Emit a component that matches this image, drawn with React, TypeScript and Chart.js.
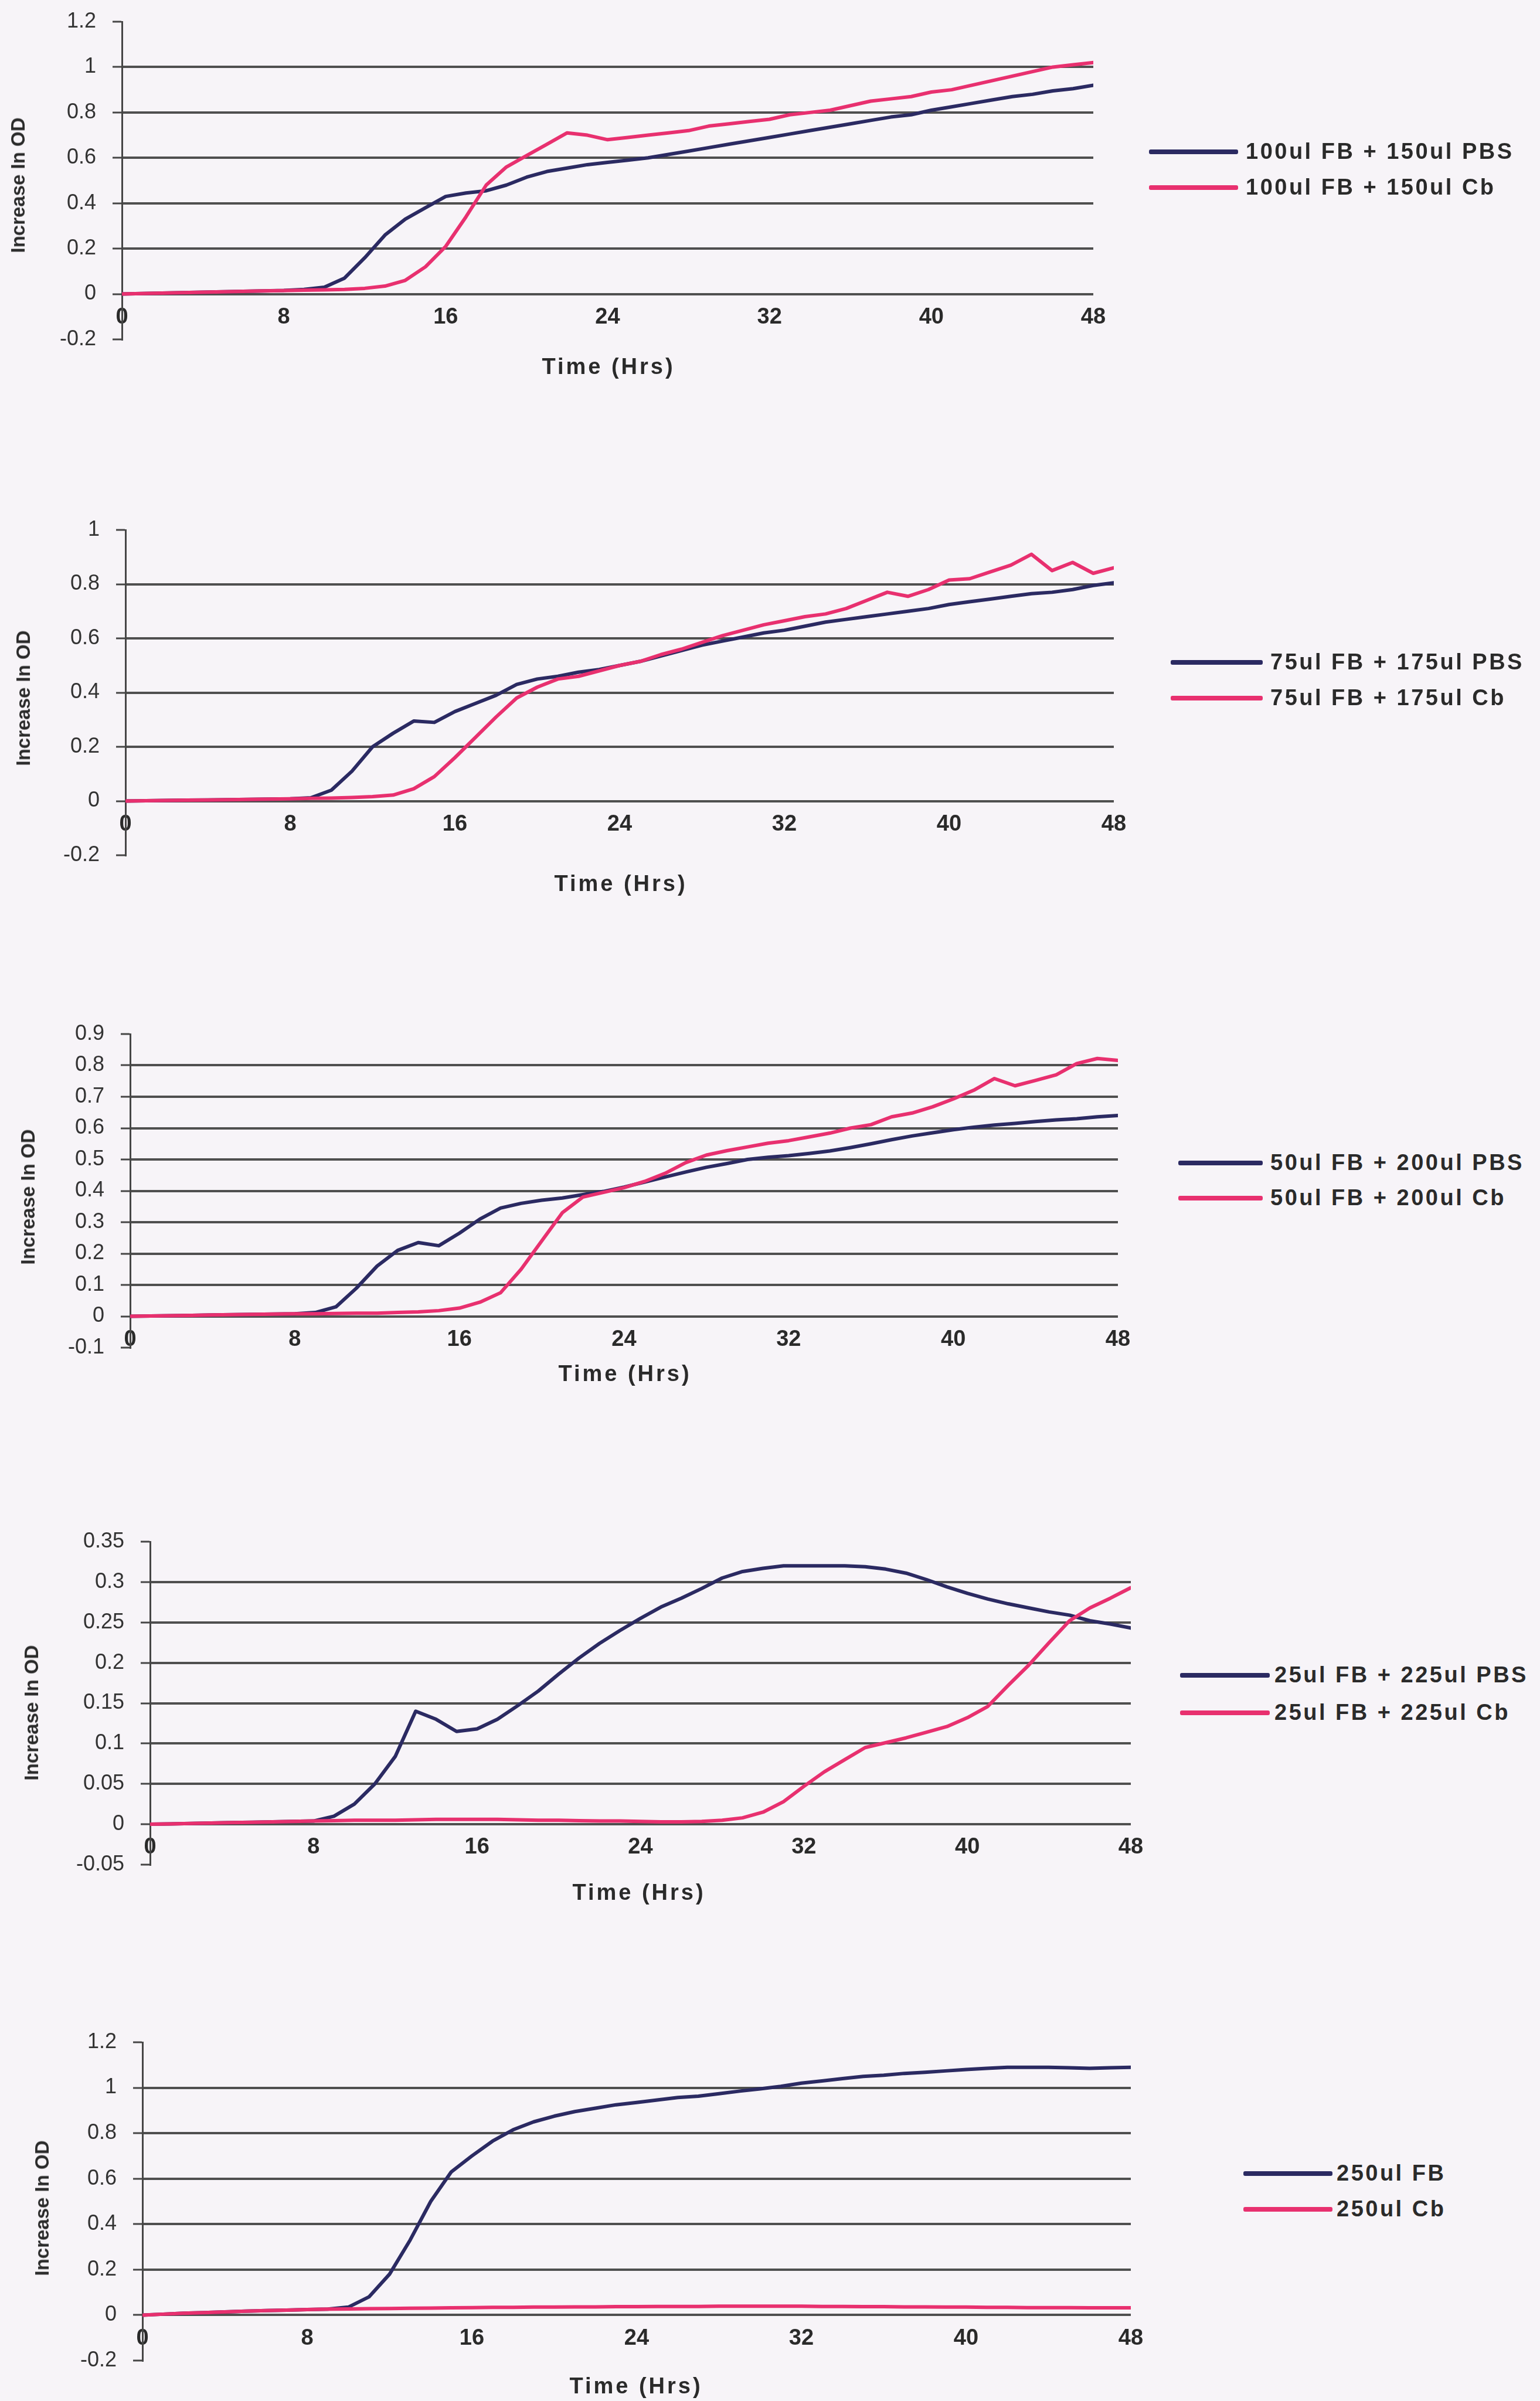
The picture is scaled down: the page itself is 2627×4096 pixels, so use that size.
import React, { useEffect, useRef } from 'react';
import { Chart, registerables } from 'chart.js';

Chart.register(...registerables);

// ---------- data ----------
const HOURS = [0, 1, 2, 3, 4, 5, 6, 7, 8, 9, 10, 11, 12, 13, 14, 15, 16, 17, 18, 19, 20, 21, 22, 23, 24,
  25, 26, 27, 28, 29, 30, 31, 32, 33, 34, 35, 36, 37, 38, 39, 40, 41, 42, 43, 44, 45, 46, 47, 48];

const X_TICK_STEP = 8;

// Panel 1: 100ul FB
const c1Pbs = [0, 0.002, 0.004, 0.006, 0.008, 0.01, 0.012, 0.014, 0.016, 0.02, 0.03, 0.07, 0.16, 0.26, 0.33, 0.38, 0.43, 0.445, 0.455, 0.48, 0.515,
  0.54, 0.555, 0.57, 0.58, 0.59, 0.6, 0.615, 0.63, 0.645, 0.66, 0.675, 0.69, 0.705, 0.72, 0.735, 0.75, 0.765, 0.78, 0.79, 0.81,
  0.825, 0.84, 0.855, 0.87, 0.88, 0.895, 0.905, 0.92];
const c1Cb = [0, 0.002, 0.004, 0.006, 0.008, 0.01, 0.012, 0.014, 0.015, 0.017, 0.018, 0.02, 0.025, 0.035, 0.06, 0.12, 0.21, 0.34, 0.48, 0.56, 0.61,
  0.66, 0.71, 0.7, 0.68, 0.69, 0.7, 0.71, 0.72, 0.74, 0.75, 0.76, 0.77, 0.79, 0.8, 0.81, 0.83, 0.85, 0.86, 0.87, 0.89,
  0.9, 0.92, 0.94, 0.96, 0.98, 1.0, 1.01, 1.02];

// Panel 2: 75ul FB
const c2Pbs = [0, 0.001, 0.002, 0.003, 0.004, 0.005, 0.006, 0.007, 0.008, 0.012, 0.04, 0.11, 0.2, 0.25, 0.295, 0.29, 0.33, 0.36, 0.39, 0.43, 0.45,
  0.46, 0.475, 0.485, 0.5, 0.515, 0.535, 0.555, 0.575, 0.59, 0.605, 0.62, 0.63, 0.645, 0.66, 0.67, 0.68, 0.69, 0.7, 0.71, 0.725,
  0.735, 0.745, 0.755, 0.765, 0.77, 0.78, 0.795, 0.805];
const c2Cb = [0, 0.001, 0.002, 0.003, 0.004, 0.005, 0.006, 0.007, 0.008, 0.01, 0.011, 0.013, 0.016, 0.022, 0.045, 0.09, 0.16, 0.235, 0.31, 0.38, 0.42,
  0.45, 0.46, 0.48, 0.5, 0.515, 0.54, 0.56, 0.585, 0.61, 0.63, 0.65, 0.665, 0.68, 0.69, 0.71, 0.74, 0.77, 0.755, 0.78, 0.815,
  0.82, 0.845, 0.87, 0.91, 0.85, 0.88, 0.84, 0.86];

// Panel 3: 50ul FB
const c3Pbs = [0, 0.001, 0.002, 0.003, 0.004, 0.005, 0.006, 0.007, 0.008, 0.012, 0.03, 0.09, 0.16, 0.21, 0.235, 0.225, 0.265, 0.31, 0.345, 0.36, 0.37,
  0.377, 0.388, 0.398, 0.412, 0.428, 0.444, 0.46, 0.475, 0.487, 0.5, 0.507, 0.512, 0.519, 0.527, 0.538, 0.55, 0.563, 0.575, 0.585, 0.595,
  0.603, 0.61, 0.615, 0.621, 0.626, 0.63, 0.636, 0.64];
const c3Cb = [0, 0.001, 0.002, 0.003, 0.004, 0.005, 0.006, 0.007, 0.008, 0.008, 0.009, 0.01, 0.01, 0.012, 0.014, 0.018, 0.026, 0.045, 0.075, 0.15, 0.24,
  0.33, 0.38, 0.395, 0.41, 0.43, 0.456, 0.49, 0.514, 0.528, 0.54, 0.552, 0.56, 0.572, 0.584, 0.6, 0.611, 0.636, 0.648, 0.668, 0.693,
  0.721, 0.758, 0.735, 0.752, 0.77, 0.806, 0.822, 0.816];

// Panel 4: 25ul FB
const c4Pbs = [0, 0.0005, 0.001, 0.0015, 0.002, 0.0025, 0.003, 0.0035, 0.004, 0.01, 0.025, 0.05, 0.084, 0.14, 0.13, 0.115, 0.118, 0.13, 0.147, 0.165, 0.186,
  0.206, 0.224, 0.24, 0.255, 0.269, 0.28, 0.292, 0.305, 0.313, 0.317, 0.32, 0.32, 0.32, 0.32, 0.319, 0.316, 0.311, 0.303, 0.294, 0.286,
  0.279, 0.273, 0.268, 0.263, 0.259, 0.252, 0.248, 0.243];
const c4Cb = [0, 0.0005, 0.001, 0.0015, 0.002, 0.0025, 0.003, 0.0035, 0.004, 0.0045, 0.005, 0.005, 0.005, 0.0055, 0.006, 0.006, 0.006, 0.006, 0.0055, 0.005, 0.005,
  0.0045, 0.004, 0.004, 0.0035, 0.003, 0.003, 0.0035, 0.005, 0.008, 0.015, 0.028, 0.047, 0.065, 0.08, 0.095, 0.101, 0.107, 0.114, 0.121, 0.132,
  0.146, 0.172, 0.197, 0.225, 0.252, 0.268, 0.28, 0.293];

// Panel 5: 250ul FB
const c5Pbs = [0, 0.004, 0.008, 0.011, 0.014, 0.017, 0.02, 0.022, 0.024, 0.026, 0.035, 0.08, 0.18, 0.33, 0.5, 0.63, 0.7, 0.765, 0.815, 0.85, 0.875,
  0.895, 0.91, 0.925, 0.935, 0.946, 0.957, 0.963, 0.974, 0.985, 0.995, 1.006, 1.02, 1.03, 1.04, 1.05, 1.055, 1.063, 1.068, 1.074, 1.08,
  1.085, 1.09, 1.09, 1.09, 1.088, 1.085, 1.088, 1.09];
const c5Cb = [0, 0.004, 0.008, 0.011, 0.014, 0.017, 0.02, 0.022, 0.024, 0.026, 0.027, 0.028, 0.029, 0.03, 0.031, 0.032, 0.033, 0.034, 0.034, 0.035, 0.035,
  0.036, 0.036, 0.037, 0.037, 0.038, 0.038, 0.038, 0.039, 0.039, 0.039, 0.039, 0.039, 0.038, 0.038, 0.037, 0.037, 0.036, 0.036, 0.035, 0.035,
  0.034, 0.034, 0.033, 0.033, 0.033, 0.032, 0.032, 0.032];

const LEGEND_1 = ['100ul FB + 150ul PBS', '100ul FB + 150ul Cb'];
const LEGEND_2 = ['75ul FB + 175ul PBS', '75ul FB + 175ul Cb'];
const LEGEND_3 = ['50ul FB + 200ul PBS', '50ul FB + 200ul Cb'];
const LEGEND_4 = ['25ul FB + 225ul PBS', '25ul FB + 225ul Cb'];
const LEGEND_5 = ['250ul FB', '250ul Cb'];

const Y_TITLE = 'Increase In OD';
const X_TITLE = 'Time (Hrs)';

// ---------- styles ----------
const NAVY = '#2b2a62';
const PINK = '#e8306f';
const GRID = '#4f4f4f';
const AXIS = '#464646';
const TEXT = '#2a2a2a';
const BG = '#f7f4f8';
const FONT = '"Liberation Sans", Arial, Helvetica, sans-serif';
const CANVAS_W = 2000;
const AXIS_W = 140;

type PanelCfg = {
  pbs: number[]; cb: number[]; labels: string[];
  yMin: number; yMax: number; yStep: number;
  plot: { left: number; right: number; top: number; bottom: number };
  yTitle: { x: number; y: number };
  xTitle: { x: number; y: number };
  legend: { rows: number[]; lineX: number[]; textX: number };
};

const PANELS: PanelCfg[] = [
  { pbs: c1Pbs, cb: c1Cb, labels: LEGEND_1, yMin: -0.2, yMax: 1.2, yStep: 0.2,
    plot: { left: 208, right: 1865, top: 37, bottom: 579 },
    yTitle: { x: 31, y: 316 }, xTitle: { x: 1038, y: 626 },
    legend: { rows: [259, 320], lineX: [1960, 2112], textX: 2125 } },
  { pbs: c2Pbs, cb: c2Cb, labels: LEGEND_2, yMin: -0.2, yMax: 1.0, yStep: 0.2,
    plot: { left: 214, right: 1900, top: 904, bottom: 1459 },
    yTitle: { x: 40, y: 1191 }, xTitle: { x: 1059, y: 1508 },
    legend: { rows: [1130, 1191], lineX: [1997, 2154], textX: 2167 } },
  { pbs: c3Pbs, cb: c3Cb, labels: LEGEND_3, yMin: -0.1, yMax: 0.9, yStep: 0.1,
    plot: { left: 222, right: 1907, top: 1764, bottom: 2299 },
    yTitle: { x: 48, y: 2042 }, xTitle: { x: 1066, y: 2344 },
    legend: { rows: [1984, 2044], lineX: [2010, 2154], textX: 2167 } },
  { pbs: c4Pbs, cb: c4Cb, labels: LEGEND_4, yMin: -0.05, yMax: 0.35, yStep: 0.05,
    plot: { left: 256, right: 1929, top: 2630, bottom: 3181 },
    yTitle: { x: 54, y: 2922 }, xTitle: { x: 1090, y: 3229 },
    legend: { rows: [2858, 2922], lineX: [2013, 2166], textX: 2174 } },
  { pbs: c5Pbs, cb: c5Cb, labels: LEGEND_5, yMin: -0.2, yMax: 1.2, yStep: 0.2,
    plot: { left: 243, right: 1929, top: 3484, bottom: 4027 },
    yTitle: { x: 72, y: 3767 }, xTitle: { x: 1085, y: 4071 },
    legend: { rows: [3708, 3769], lineX: [2121, 2273], textX: 2280 } },
];

function Panel({ cfg }: { cfg: PanelCfg }) {
  const ref = useRef<HTMLCanvasElement>(null);
  const canvasTop = cfg.plot.top - 50;
  const canvasH = cfg.plot.bottom - cfg.plot.top + 100;

  useEffect(() => {
    const canvas = ref.current;
    if (!canvas) return;
    const isEdge = (v: number) =>
      Math.abs(v - cfg.yMin) < 1e-6 || Math.abs(v - cfg.yMax) < 1e-6;
    const chart = new Chart(canvas, {
      type: 'line',
      data: {
        datasets: [
          {
            label: cfg.labels[1],
            data: HOURS.map((h, i) => ({ x: h, y: cfg.cb[i] })),
            borderColor: PINK,
            backgroundColor: PINK,
            borderWidth: 6,
            pointRadius: 0,
            tension: 0,
            borderJoinStyle: 'round',
            borderCapStyle: 'round',
            order: 0,
          },
          {
            label: cfg.labels[0],
            data: HOURS.map((h, i) => ({ x: h, y: cfg.pbs[i] })),
            borderColor: NAVY,
            backgroundColor: NAVY,
            borderWidth: 6,
            pointRadius: 0,
            tension: 0,
            borderJoinStyle: 'round',
            borderCapStyle: 'round',
            order: 1,
          },
        ],
      },
      options: {
        responsive: false,
        animation: false,
        events: [],
        layout: {
          padding: {
            left: cfg.plot.left - AXIS_W,
            top: cfg.plot.top - canvasTop,
            right: CANVAS_W - cfg.plot.right,
            bottom: canvasTop + canvasH - cfg.plot.bottom,
          },
        },
        plugins: { legend: { display: false }, tooltip: { enabled: false } },
        scales: {
          x: {
            type: 'linear',
            min: 0,
            max: 48,
            position: { y: 0 } as any,
            grid: { display: false, drawTicks: false },
            border: { display: false },
            ticks: {
              stepSize: X_TICK_STEP,
              autoSkip: false,
              maxRotation: 0,
              padding: 17,
              color: TEXT,
              font: { family: FONT, size: 38, weight: 'bold' },
            },
          },
          y: {
            type: 'linear',
            min: cfg.yMin,
            max: cfg.yMax,
            afterFit: (s: any) => { s.width = AXIS_W; },
            grid: {
              color: (ctx: any) => (ctx.tick && isEdge(ctx.tick.value) ? 'rgba(0,0,0,0)' : GRID),
              lineWidth: 4,
              tickLength: 16,
              tickColor: AXIS,
              tickWidth: 3,
            },
            border: { display: true, color: AXIS, width: 3 },
            ticks: {
              stepSize: cfg.yStep,
              padding: 28,
              color: '#333333',
              font: { family: FONT, size: 36 },
              callback: (v: any) => String(parseFloat(Number(v).toFixed(3))),
            },
          },
        },
      } as any,
    });
    return () => chart.destroy();
  }, [cfg]);

  const textStyle = (size: number, spacing: number): React.CSSProperties => ({
    position: 'absolute',
    font: `bold ${size}px ${FONT}`,
    letterSpacing: `${spacing}px`,
    color: TEXT,
    whiteSpace: 'nowrap',
    lineHeight: 1.15,
  });

  return (
    <>
      <canvas
        ref={ref}
        width={CANVAS_W}
        height={canvasH}
        style={{ position: 'absolute', left: 0, top: canvasTop, width: CANVAS_W, height: canvasH, display: 'block' }}
      />
      <div
        style={{
          ...textStyle(33, 0),
          left: cfg.yTitle.x,
          top: cfg.yTitle.y,
          transform: 'translate(-50%, -50%) rotate(-90deg)',
        }}
      >
        {Y_TITLE}
      </div>
      <div
        style={{
          ...textStyle(38, 4),
          left: cfg.xTitle.x,
          top: cfg.xTitle.y,
          transform: 'translate(-50%, -50%)',
        }}
      >
        {X_TITLE}
      </div>
      {cfg.labels.map((lab, i) => (
        <React.Fragment key={lab}>
          <div
            style={{
              position: 'absolute',
              left: cfg.legend.lineX[0],
              top: cfg.legend.rows[i] - 4,
              width: cfg.legend.lineX[1] - cfg.legend.lineX[0],
              height: 8,
              borderRadius: 3,
              background: i === 0 ? NAVY : PINK,
            }}
          />
          <div
            style={{
              ...textStyle(38, 3.5),
              left: cfg.legend.textX,
              top: cfg.legend.rows[i],
              transform: 'translateY(-50%)',
            }}
          >
            {lab}
          </div>
        </React.Fragment>
      ))}
    </>
  );
}

export default function App() {
  return (
    <div
      style={{
        position: 'absolute',
        left: 0,
        top: 0,
        width: 2627,
        height: 4096,
        background: BG,
        overflow: 'hidden',
      }}
    >
      {PANELS.map((p, i) => (
        <Panel key={i} cfg={p} />
      ))}
    </div>
  );
}
